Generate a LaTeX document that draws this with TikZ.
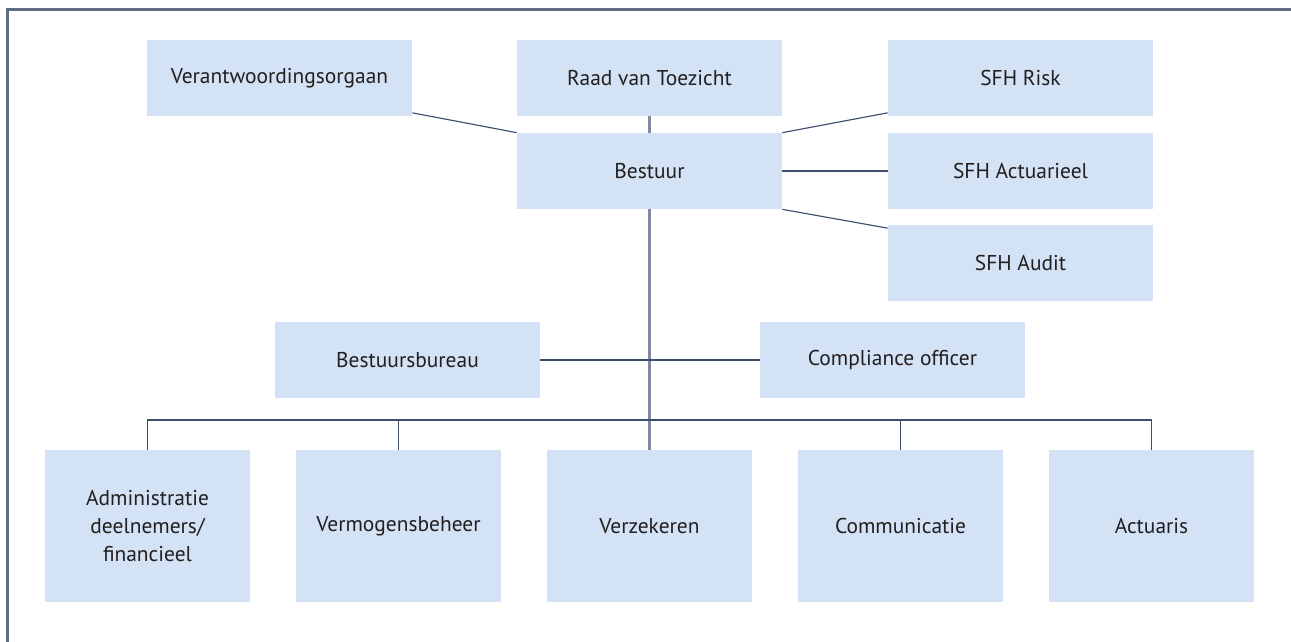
\documentclass[tikz,border=0pt]{standalone}
\usepackage{fontspec}
\setmainfont{PT Sans}
\usetikzlibrary{calc}
\definecolor{boxblue}{HTML}{D3E2F4}
\definecolor{linenavy}{HTML}{3E4D6C}
\definecolor{linegray}{HTML}{7F8AA1}
\definecolor{framegray}{HTML}{5E6C86}
\definecolor{textdark}{HTML}{231F20}
\tikzset{
  unitbox/.style={fill=boxblue, draw=none, inner sep=0pt, align=center,
    text=textdark, font=\fontsize{12.2}{16}\selectfont,
    minimum width=5.3cm, minimum height=1.52cm},
  deptbox/.style={unitbox, minimum width=4.1cm, minimum height=3.04cm},
  link/.style={draw=linenavy, line width=0.65pt},
  trunk/.style={draw=linegray, line width=1.4pt},
}

\begin{document}
\begin{tikzpicture}[x=0.02cm, y=-0.02cm]
			%%%%% START %%%%%
			\useasboundingbox (0, 0) rectangle (1291, 642);
			
			\draw[framegray, line width=1.6pt] (7.5, 642) -- (7.5, 9.5) -- (1291, 9.5);
			
			% top row
			\node[unitbox] (verantw) at (279.5, 78) {Verantwoordingsorgaan};
			\node[unitbox] (raad) at (649.5, 78) {Raad van Toezicht};
			\node[unitbox] (risk) at (1020.5, 78) {SFH Risk};
			
			\node[unitbox] (bestuur) at (649.5, 171) {Bestuur};
			\node[unitbox] (actuarieel) at (1020.5, 171) {SFH Actuarieel};
			\node[unitbox] (audit) at (1020.5, 263) {SFH Audit};
			
			\node[unitbox] (bureau) at (407.5, 360) {Bestuursbureau};
			\node[unitbox] (compliance) at (892.5, 360) {Compliance officer};
			
			% departments
			\node[deptbox] (admin) at (147.5, 526) {Administratie\\deelnemers/\\financieel};
			\node[deptbox] (vermogen) at (398.5, 526) {Vermogensbeheer};
			\node[deptbox] (verzekeren) at (649.5, 526) {Verzekeren};
			\node[deptbox] (communicatie) at (900.5, 526) {Communicatie};
			\node[deptbox] (actuaris) at (1151.5, 526) {Actuaris};
			
			\coordinate (bus) at (649.5, 420);
			
			% connectors
			\draw[link] ([yshift=2pt]verantw.south east) -- (bestuur.north west);
			\draw[link] (bestuur.north east) -- ([yshift=2pt]risk.south west);
			\draw[link] (bestuur.east) -- (actuarieel.west);
			\draw[link] (bestuur.south east) -- ([yshift=-2pt]audit.north west);
			\draw[trunk] (raad.south) -- (bestuur.north);
			\draw[trunk] (bestuur.south) -- (verzekeren.north);
			\draw[link] (bureau.east) -- (compliance.west);
			
			\draw[link] (admin.north) |- (bus) -| (actuaris.north);
			\draw[link] (vermogen.north) -- (vermogen.north |- bus);
			\draw[link] (communicatie.north) -- (communicatie.north |- bus);
			
			%%%%% END %%%%%
\end{tikzpicture}
\end{document}
